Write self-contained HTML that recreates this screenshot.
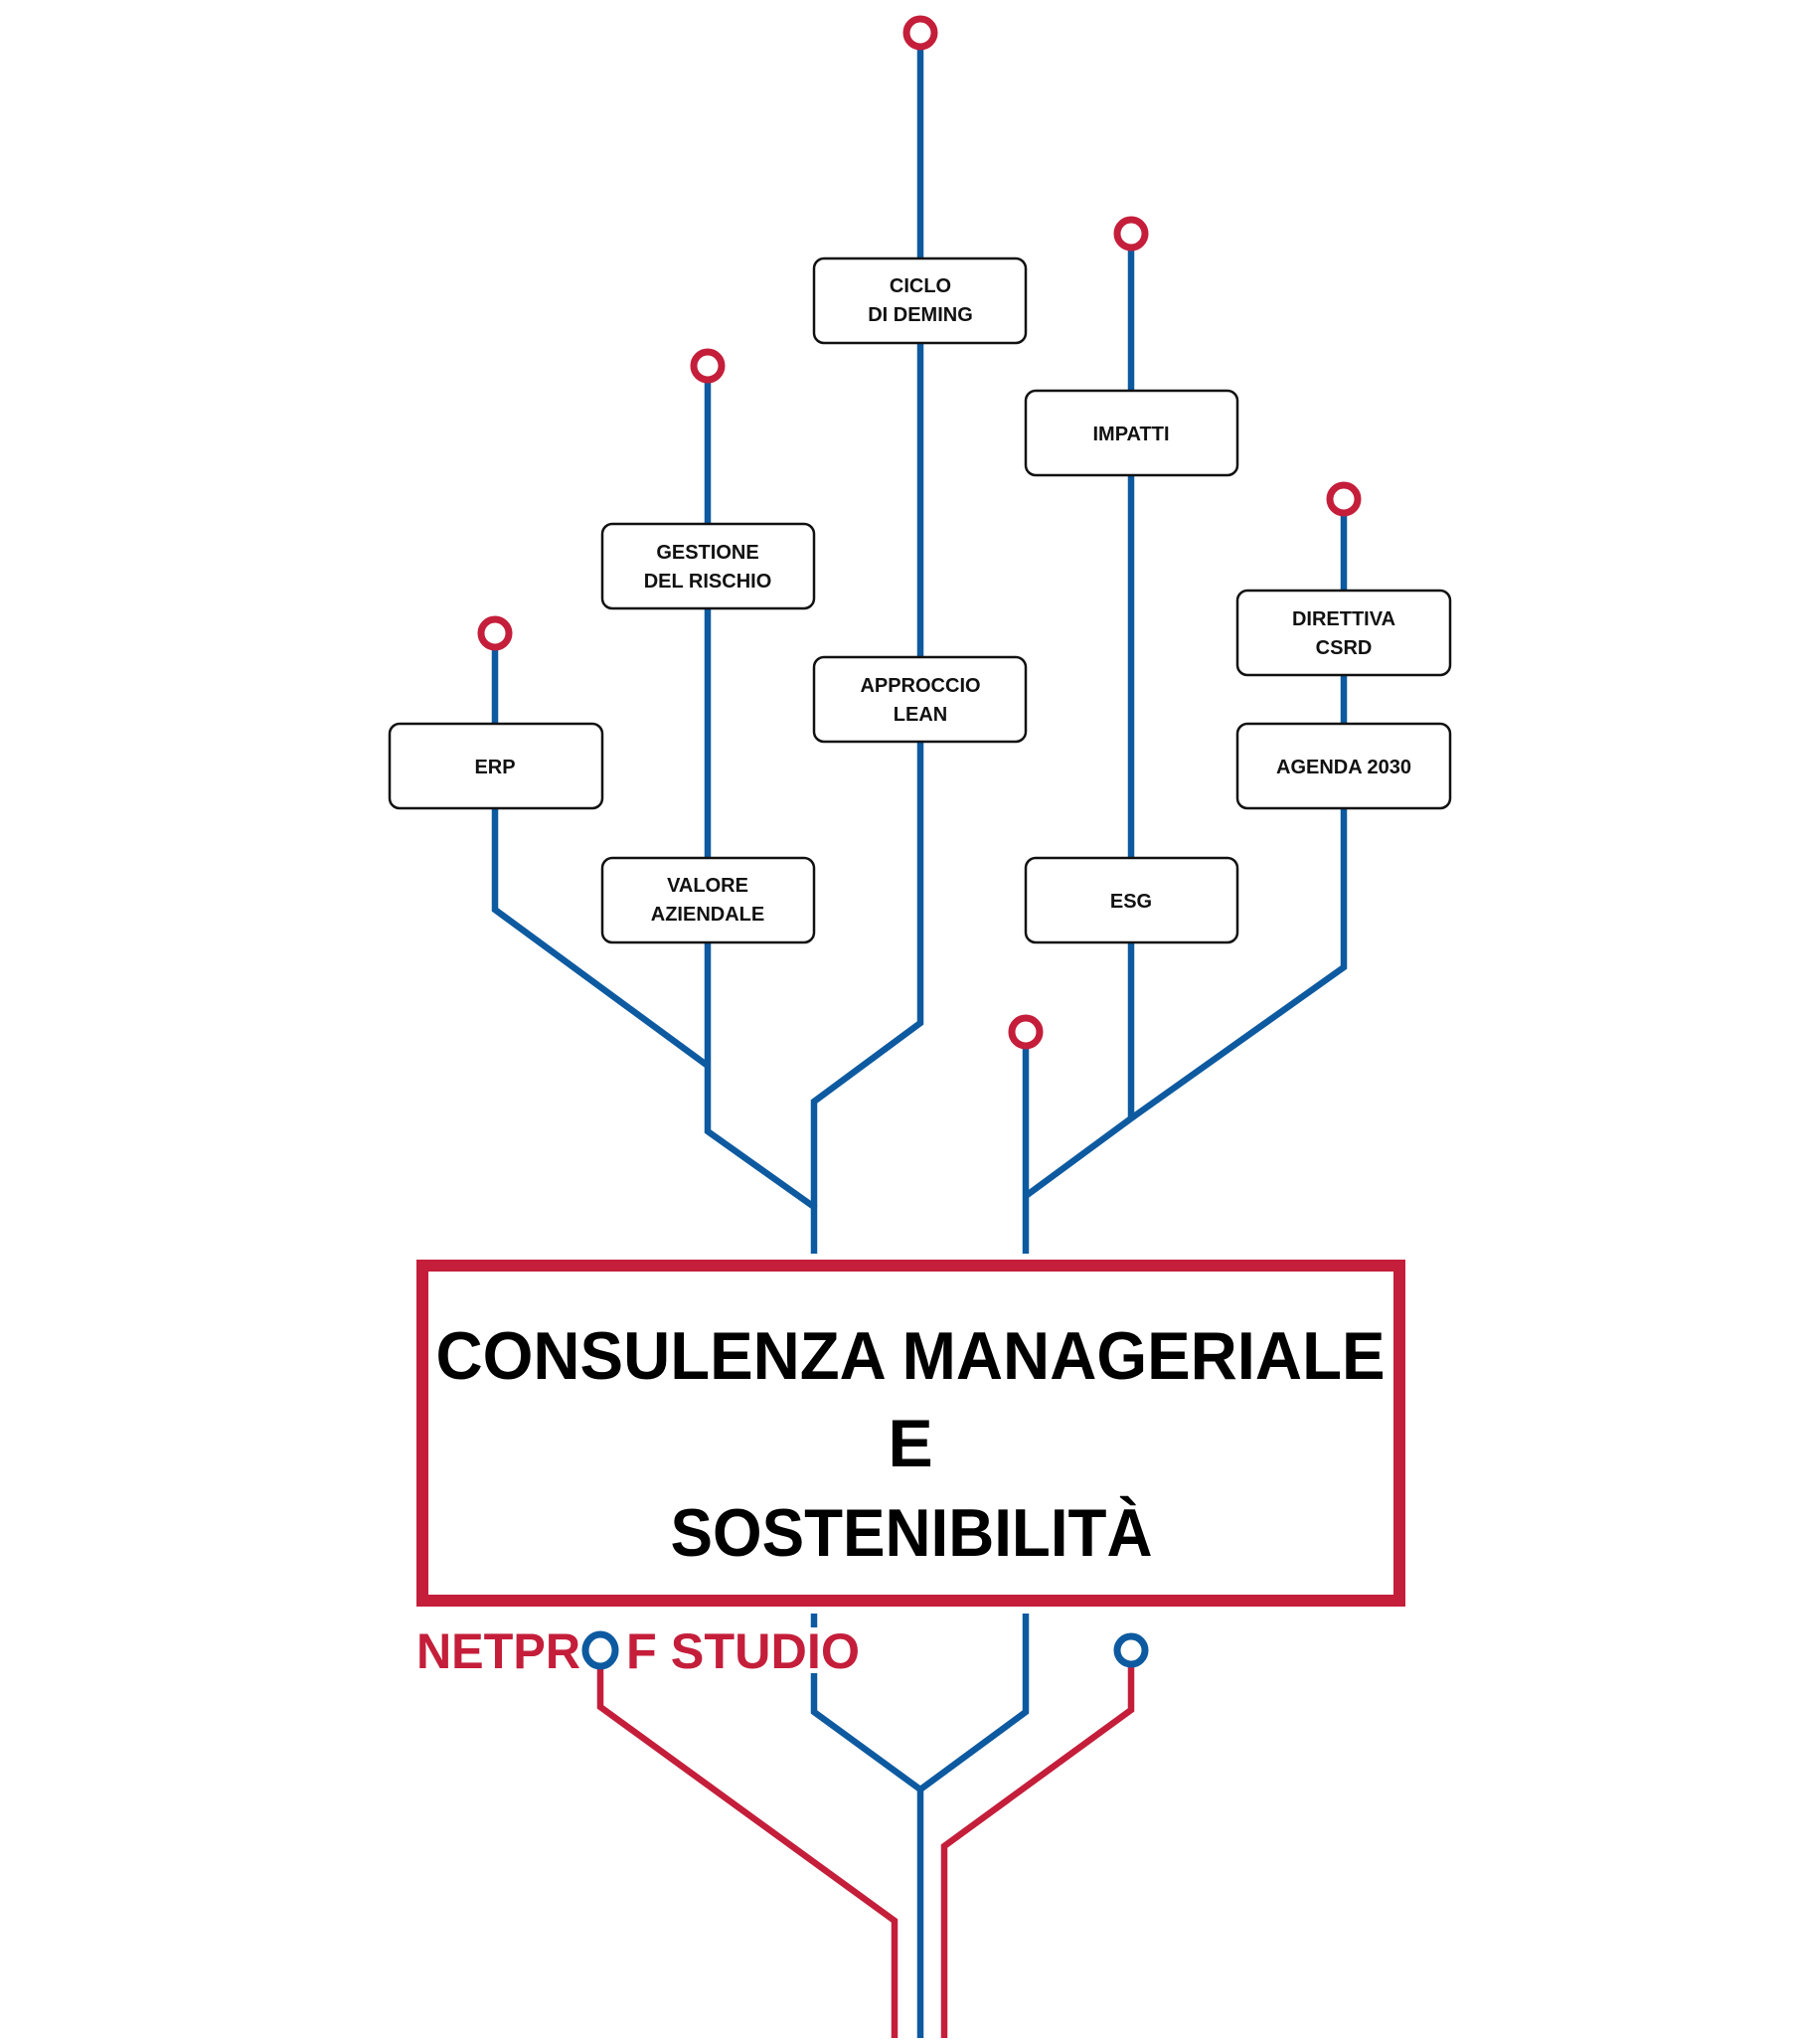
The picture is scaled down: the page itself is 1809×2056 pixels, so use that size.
<!DOCTYPE html>
<html><head><meta charset="utf-8"><style>
html,body{margin:0;padding:0;background:#fff;}
svg{display:block;}
text{font-family:"Liberation Sans",sans-serif;}
</style></head><body>
<svg width="1809" height="2056" viewBox="0 0 1809 2056" xmlns="http://www.w3.org/2000/svg">
<g fill="none" stroke="#0d5aa0" stroke-width="6.5" stroke-linejoin="miter">
<polyline points="498,637 498,915 712,1072"/>
<polyline points="712,368 712,1138 819,1214 819,1261"/>
<polyline points="926,33 926,1029 819,1108 819,1214"/>
<polyline points="1032,1038 1032,1261"/>
<polyline points="1032,1203 1138,1125 1352,973 1352,502"/>
<polyline points="1138,235 1138,1125"/>
<polyline points="819,1623 819,1637"/>
<polyline points="819,1683 819,1722 926,1800 1032,1722 1032,1623"/>
<polyline points="926,1800 926,2050"/>
</g>
<g fill="none" stroke="#c41e3a" stroke-width="6.5">
<polyline points="604,1676 604,1717 900,1932 900,2050"/>
<polyline points="1138,1676 1138,1720 950,1857 950,2050"/>
</g>
<g fill="#fff" stroke="#111" stroke-width="2.5">
<rect x="819" y="260" width="213" height="85" rx="10"/>
<rect x="1032" y="393" width="213" height="85" rx="10"/>
<rect x="606" y="527" width="213" height="85" rx="10"/>
<rect x="1245" y="594" width="214" height="85" rx="10"/>
<rect x="819" y="661" width="213" height="85" rx="10"/>
<rect x="392" y="728" width="214" height="85" rx="10"/>
<rect x="1245" y="728" width="214" height="85" rx="10"/>
<rect x="606" y="863" width="213" height="85" rx="10"/>
<rect x="1032" y="863" width="213" height="85" rx="10"/>
</g>
<g fill="#111" font-size="20" font-weight="bold" text-anchor="middle">
<text x="926" y="294">CICLO</text><text x="926" y="323">DI DEMING</text>
<text x="1138" y="443">IMPATTI</text>
<text x="712" y="562">GESTIONE</text><text x="712" y="591">DEL RISCHIO</text>
<text x="1352" y="629">DIRETTIVA</text><text x="1352" y="658">CSRD</text>
<text x="926" y="696">APPROCCIO</text><text x="926" y="725">LEAN</text>
<text x="498" y="778">ERP</text>
<text x="1352" y="778">AGENDA 2030</text>
<text x="712" y="897">VALORE</text><text x="712" y="926">AZIENDALE</text>
<text x="1138" y="913">ESG</text>
</g>
<g fill="#fff" stroke="#c41e3a" stroke-width="7">
<circle cx="926" cy="33" r="14"/>
<circle cx="1138" cy="235" r="14"/>
<circle cx="712" cy="368" r="14"/>
<circle cx="1352" cy="502" r="14"/>
<circle cx="498" cy="637" r="14"/>
<circle cx="1032" cy="1038" r="14"/>
</g>
<rect x="425" y="1273" width="983" height="337" fill="none" stroke="#c41e3a" stroke-width="12"/>
<g fill="#000" font-weight="bold" font-size="68" text-anchor="middle">
<text x="916" y="1387" textLength="955" lengthAdjust="spacingAndGlyphs">CONSULENZA MANAGERIALE</text>
<text x="916" y="1475">E</text>
<text x="917" y="1565" textLength="485" lengthAdjust="spacingAndGlyphs">SOSTENIBILITÀ</text>
</g>
<g fill="#c41e3a" font-weight="bold" font-size="50">
<text x="419" y="1678" textLength="165" lengthAdjust="spacingAndGlyphs">NETPR</text>
<text x="630" y="1678" textLength="235" lengthAdjust="spacingAndGlyphs">F STUDIO</text>
</g>
<g fill="#fff" stroke="#0d5aa0" stroke-width="7">
<ellipse cx="604" cy="1660" rx="15" ry="16"/>
<circle cx="1138" cy="1660" r="14"/>
</g>
</svg>
</body></html>
